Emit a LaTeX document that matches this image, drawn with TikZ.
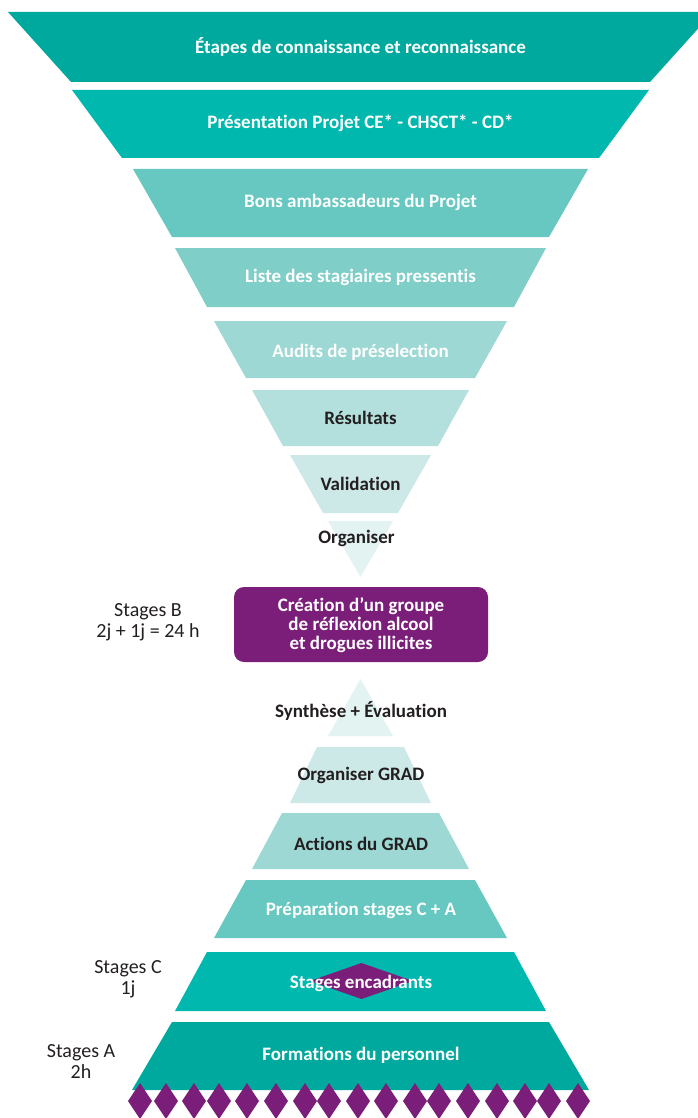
\documentclass[tikz,border=0pt]{standalone}
\usepackage{fontspec}
\setmainfont{Carlito}[Ligatures=NoCommon]
\definecolor{c1}{HTML}{00A99D}
\definecolor{c2}{HTML}{00B8AE}
\definecolor{c3}{HTML}{66C8C0}
\definecolor{c4}{HTML}{80CEC8}
\definecolor{c5}{HTML}{9DD8D4}
\definecolor{c6}{HTML}{B3E0DD}
\definecolor{c7}{HTML}{CDE9E7}
\definecolor{c8}{HTML}{E2F3F2}
\definecolor{purp}{HTML}{7B1E7A}
\definecolor{ink}{HTML}{231F20}
\newcommand\trapz[5]{\fill[#5] (#3,#1) -- ({721-#3},#1) -- ({721-#4},#2) -- (#4,#2) -- cycle;}
\tikzset{
  wlab/.style={font=\bfseries\fontsize{19}{19}\selectfont, text=white, align=center, inner sep=0pt},
  dlab/.style={font=\bfseries\fontsize{19}{19}\selectfont, text=ink, align=center, inner sep=0pt},
  side/.style={font=\fontsize{20}{21}\selectfont, text=ink, align=center, inner sep=0pt},
}
\begin{document}
\begin{tikzpicture}[x=1pt,y=-1pt]
\useasboundingbox (0,0) rectangle (698,1118);
\begin{scope}
\clip (0,0) rectangle (698,1118);
% upper funnel
\trapz{12}{82}{8}{71}{c1}
\trapz{90}{158}{72}{122}{c2}
\trapz{169}{237}{133}{172}{c3}
\trapz{248}{307}{175}{207}{c4}
\trapz{321}{378}{214}{246}{c5}
\trapz{390}{446}{252}{283}{c6}
\trapz{455}{513}{290}{323}{c7}
\fill[c8] (328,521) -- (393,521) -- (360.5,577) -- cycle;
% lower pyramid
\fill[c8] (360.5,679) -- (393,736) -- (328,736) -- cycle;
\trapz{747}{803}{317}{290}{c7}
\trapz{813}{869}{282}{252}{c5}
\trapz{880}{938}{246}{214}{c3}
\trapz{952}{1011}{207}{175}{c2}
\trapz{1022}{1090}{172}{132}{c1}
% purple box
\fill[purp, rounded corners=10pt] (234,587) rectangle (488,662);
% diamond behind "Stages encadrants"
\fill[purp] (361.5,963) -- (413,981) -- (361.5,999) -- (310,981) -- cycle;
% bottom diamonds
\foreach \x in {140,166,194,219,247,276,305,329,358,386,415,439,468,497,525,549,578}
  \fill[purp] (\x,1083) -- (\x+12,1101) -- (\x,1119) -- (\x-12,1101) -- cycle;
\end{scope}
% labels
\node[wlab] (n1) at (360.5,47) {Étapes de connaissance et reconnaissance};
\node[wlab] (n2) at (360.5,123) {Présentation Projet CE* - CHSCT* - CD*};
\node[wlab] (n3) at (360.5,202) {Bons ambassadeurs du Projet};
\node[wlab] (n4) at (360.5,277) {Liste des stagiaires pressentis};
\node[wlab] (n5) at (360.5,352) {Audits de préselection};
\node[dlab] (n6) at (360.5,418) {Résultats};
\node[dlab] (n7) at (360.5,484) {Validation};
\node[dlab] (n8) at (356.5,538) {Organiser};
\node[wlab] (box) at (361,625) {Création d’un groupe\\de réflexion alcool\\et drogues illicites};
\node[dlab] (m1) at (361,711) {Synthèse + Évaluation};
\node[dlab] (m2) at (361,775) {Organiser GRAD};
\node[dlab] (m3) at (361,844) {Actions du GRAD};
\node[wlab] (m4) at (361,910) {Préparation stages C + A};
\node[wlab] (m5) at (361,983) {Stages encadrants};
\node[wlab] (m6) at (361,1055) {Formations du personnel};
\node[side] (sb) at (148,622) {Stages B\\2j + 1j = 24 h};
\node[side] (sc) at (128,979) {Stages C\\1j};
\node[side] (sa) at (81,1061) {Stages A\\2h};
\end{tikzpicture}
\end{document}
